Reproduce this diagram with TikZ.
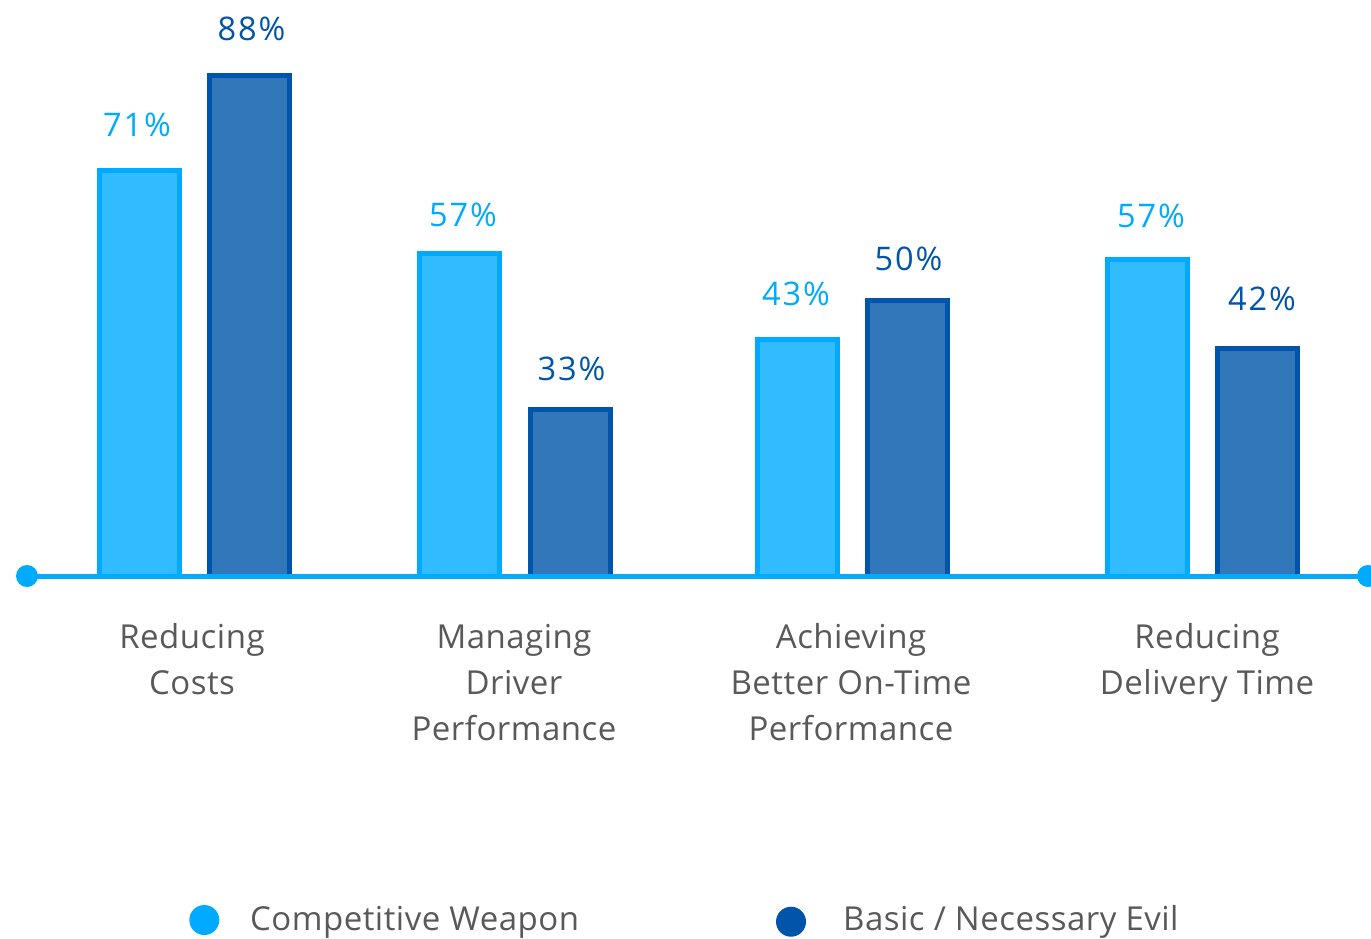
\documentclass[tikz,border=0pt]{standalone}
\usepackage{fontspec}
\setmainfont{Open Sans}
\newfontfamily\valfont[LetterSpace=6]{Open Sans}
\newfontfamily\grayfont[LetterSpace=1.5]{Open Sans}
\definecolor{lightfill}{HTML}{33BBFF}
\definecolor{lightedge}{HTML}{00AAFF}
\definecolor{darkfill}{HTML}{3377BB}
\definecolor{darkedge}{HTML}{0055AA}
\definecolor{txtgray}{HTML}{595959}
\tikzset{
  lightbar/.style={fill=lightfill,draw=lightedge,line width=5pt},
  darkbar/.style={fill=darkfill,draw=darkedge,line width=5pt},
  lightval/.style={text=lightedge,anchor=base,inner sep=0pt,font=\valfont\fontsize{32.5}{38}\selectfont},
  darkval/.style={text=darkedge,anchor=base,inner sep=0pt,font=\valfont\fontsize{32.5}{38}\selectfont},
  catlabel/.style={text=txtgray,anchor=base,align=center,inner sep=0pt,font=\grayfont\fontsize{33}{46}\selectfont},
  legtext/.style={text=txtgray,anchor=base west,inner sep=0pt,font=\grayfont\fontsize{33}{38}\selectfont},
  axisline/.style={draw=lightedge,line width=5pt},
  enddot/.style={circle,fill=lightedge,minimum size=22pt,inner sep=0pt},
}
\begin{document}
\begin{tikzpicture}[x=1pt,y=-1pt]
\useasboundingbox (0,0) rectangle (1371,938);
% bars
\path[lightbar] (99.2,170.8) rectangle (179.2,576);
\path[darkbar]  (209.2,75.2) rectangle (289.2,576);
\path[lightbar] (419.8,253.2) rectangle (499.8,576);
\path[darkbar]  (530.2,409.2) rectangle (610.2,576);
\path[lightbar] (757.5,339.8) rectangle (837.5,576);
\path[darkbar]  (867.5,300.8) rectangle (947.5,576);
\path[lightbar] (1107.5,259.2) rectangle (1187.5,576);
\path[darkbar]  (1217.5,348.5) rectangle (1297.5,576);
% axis
\node[enddot] (aL) at (27,576) {};
\node[enddot] (aR) at (1368,576) {};
\draw[axisline] (aL.center) -- (aR.center);
% values
\node[lightval] (v1) at (137,136) {71\%};
\node[darkval]  (v2) at (251.5,40.7) {88\%};
\node[lightval] (v3) at (463,226.7) {57\%};
\node[darkval]  (v4) at (571.5,380.7) {33\%};
\node[lightval] (v5) at (796,305) {43\%};
\node[darkval]  (v6) at (908.5,270.7) {50\%};
\node[lightval] (v7) at (1151,227.3) {57\%};
\node[darkval]  (v8) at (1262,310.7) {42\%};
% categories (anchor = baseline of last line)
\node[catlabel] (c1) at (192,694) {Reducing\\Costs};
\node[catlabel] (c2) at (514,740) {Managing\\Driver\\Performance};
\node[catlabel] (c3) at (851,740) {Achieving\\Better On-Time\\Performance};
\node[catlabel] (c4) at (1207,694) {Reducing\\Delivery Time};
% legend
\node[circle,fill=lightedge,minimum size=30pt,inner sep=0pt] (l1) at (204.3,920) {};
\node[legtext] (t1) at (250,930) {Competitive Weapon};
\node[circle,fill=darkedge,minimum size=30pt,inner sep=0pt] (l2) at (791,921.7) {};
\node[legtext] (t2) at (843,930) {Basic / Necessary Evil};
\end{tikzpicture}
\end{document}
